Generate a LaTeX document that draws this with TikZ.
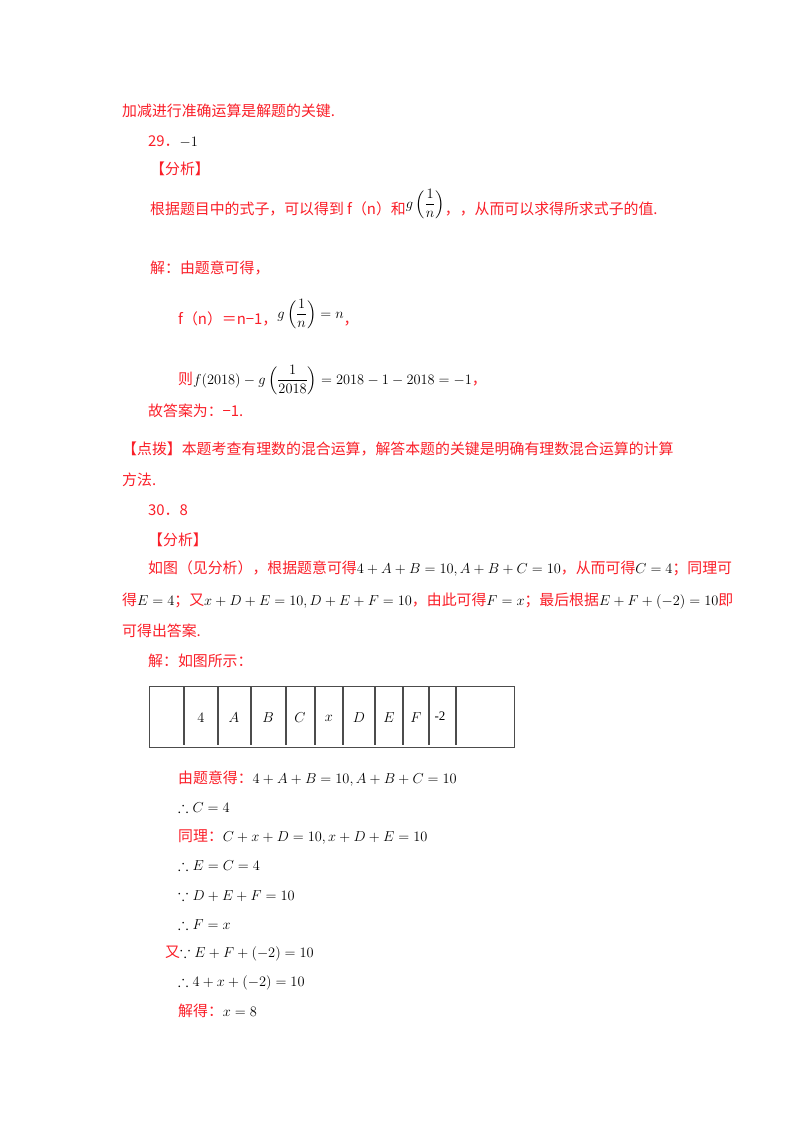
\documentclass[tikz,border=0pt]{standalone}
\usepackage{fontspec}
\setmainfont{Liberation Serif}
\newfontfamily\cjk{Noto Sans CJK SC}
\usepackage{amsmath,amssymb}
\definecolor{rd}{RGB}{250,30,40}
\newcommand{\mb}[1]{{\color{black}\fontsize{15.5}{17}\selectfont$#1$}}
\begin{document}
\begin{tikzpicture}[x=1pt,y=-1pt,
  t/.style={anchor=base west,inner sep=0pt,text=rd,font=\cjk\fontsize{14.9}{17}\selectfont},
  cell/.style={draw=black!70,line width=1pt}]
\useasboundingbox (0,0) rectangle (800,1132);
\node[t] (l1) at (122,116) {加减进行准确运算是解题的关键.};
\node[t] (l2) at (148,146) {29．\mb{-1}};
\node[t] (l3) at (150,174) {【分析】};
\node[t] (l4) at (150,214) {根据题目中的式子，可以得到 f（n）和\raisebox{6pt}{\mb{g\left(\dfrac{1}{n}\right)}}，，从而可以求得所求式子的值.};
\node[t] (l5) at (150,273) {解：由题意可得，};
\node[t] (l6) at (178,324) {f（n）＝n−1，\raisebox{6pt}{\mb{g\left(\dfrac{1}{n}\right)=n}}，};
\node[t] (l7) at (178,384) {则\mb{f(2018)-g\left(\dfrac{1}{2018}\right)=2018-1-2018=-1}，};
\node[t] (l8) at (148,416) {故答案为：−1.};
\node[t] (l9) at (122,454) {【点拨】本题考查有理数的混合运算，解答本题的关键是明确有理数混合运算的计算};
\node[t] (l10) at (122,485) {方法.};
\node[t] (l11) at (148,515) {30．8};
\node[t] (l12) at (148,545) {【分析】};
\node[t] (l13) at (148,573) {如图（见分析），根据题意可得\mb{4+A+B=10,A+B+C=10}，从而可得\mb{C=4}；同理可};
\node[t] (l14) at (122,605) {得\mb{E=4}；又\mb{x+D+E=10,D+E+F=10}，由此可得\mb{F=x}；最后根据\mb{E+F+(-2)=10}即};
\node[t] (l15) at (122,636) {可得出答案.};
\node[t] (l16) at (148,666) {解：如图所示：};
% table
\draw[cell] (149,686) rectangle (514,747);
\foreach \xx in {184,218,251,286,315,343,375,403,429,456}
  \draw[cell,line width=1.2pt] (\xx,686) -- (\xx,745);
\foreach \lab/\xx in {4/201,A/234,B/268,C/300,x/329,D/359,E/389,F/416}
  \node[font=\fontsize{14}{16}\selectfont] at (\xx,718) {$\lab$};
\node[font=\fontsize{13}{15}\selectfont] (m2) at (440,716) {-2};
\node[t] (d1) at (178,783) {由题意得：\mb{4+A+B=10,A+B+C=10}};
\node[t] (d2) at (178,812) {\mb{\therefore C=4}};
\node[t] (d3) at (178,841) {同理：\mb{C+x+D=10,x+D+E=10}};
\node[t] (d4) at (178,870) {\mb{\therefore E=C=4}};
\node[t] (d5) at (178,900) {\mb{\because D+E+F=10}};
\node[t] (d6) at (178,929) {\mb{\therefore F=x}};
\node[t] (d7) at (165,957) {又\mb{\because E+F+(-2)=10}};
\node[t] (d8) at (178,986) {\mb{\therefore 4+x+(-2)=10}};
\node[t] (d9) at (178,1016) {解得：\mb{x=8}};
\end{tikzpicture}
\end{document}
